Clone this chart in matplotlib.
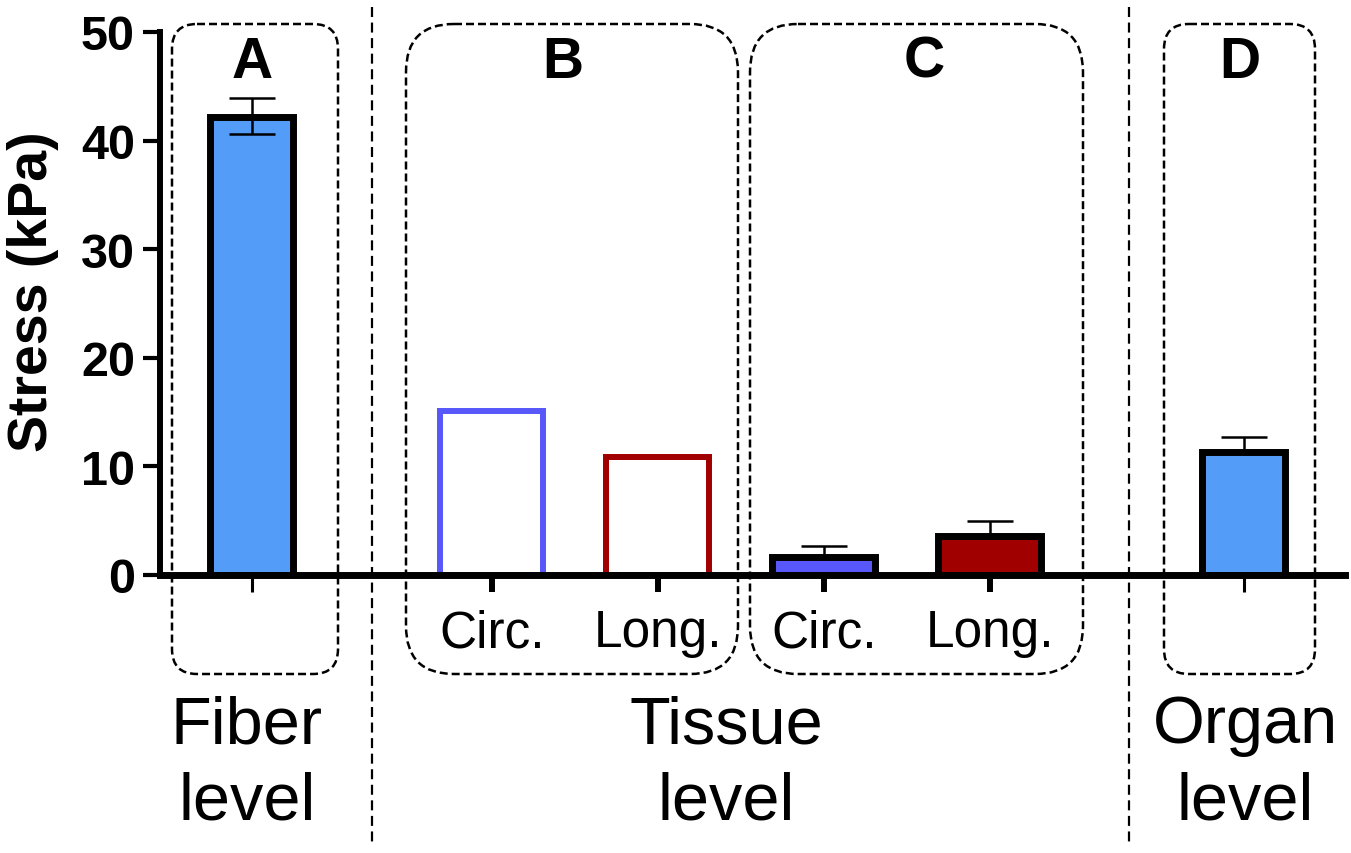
import matplotlib
matplotlib.use("Agg")
import matplotlib.pyplot as plt
import matplotlib.transforms as mtransforms
from matplotlib.patches import FancyBboxPatch
from matplotlib.lines import Line2D

plt.rcParams['font.family'] = ['Liberation Sans', 'DejaVu Sans']

# data
groups = ["A", "B", "B", "C", "C", "D"]
categories = ["", "Circ.", "Long.", "Circ.", "Long.", ""]
stress = [42.2, 15.1, 10.9, 1.7, 3.6, 11.3]
err_low = [1.6, 0.0, 0.0, 0.0, 0.0, 0.0]
err_high = [1.7, 0.0, 0.0, 1.0, 1.4, 1.4]
has_err = [True, False, False, True, True, True]
level_labels = ["Fiber\nlevel", "Tissue\nlevel", "Organ\nlevel"]

# layout / style
positions = [0.554, 2.0, 3.0, 4.0, 5.0, 6.53]
widths = [0.50, 0.62, 0.62, 0.62, 0.62, 0.50]
fills = ["#539DF9", "white", "white", "#5858FA", "#A00000", "#539DF9"]
edges = ["black", "#5858FA", "#A00000", "black", "black", "black"]
edge_w = [5.0, 4.3, 4.3, 5.0, 5.0, 5.0]
tick_w = [2.2, 4.3, 4.3, 4.3, 4.3, 2.2]

W, H = 1351, 854
fig = plt.figure(figsize=(W / 100, H / 100), dpi=100)
# pixel coordinates measured from the top-left corner
px = mtransforms.Affine2D().scale(1 / 100, -1 / 100).translate(0, H / 100) + fig.dpi_scale_trans

ax = fig.add_axes([160 / W, 1 - 576 / H, 1185 / W, (576 - 33) / H])
ax.set_facecolor("none")

ax.bar(positions, stress, width=widths, color=fills, edgecolor=edges,
       linewidth=edge_w, zorder=2)

for x, y, lo, hi, ok in zip(positions, stress, err_low, err_high, has_err):
    if ok:
        ax.errorbar([x], [y], yerr=[[lo], [hi]], fmt="none", ecolor="black",
                    elinewidth=1.8, capsize=16.5, capthick=1.8, zorder=3)

ax.set_xlim(0, 7.14)
ax.set_ylim(0, 50)
ax.set_yticks([0, 10, 20, 30, 40, 50])
ax.set_xticks(positions)
ax.set_xticklabels(categories, fontsize=37)

for s in ["top", "right"]:
    ax.spines[s].set_visible(False)
ax.spines["left"].set_linewidth(4.3)
ax.spines["bottom"].set_linewidth(5.0)
ax.spines["left"].set_zorder(4)
ax.spines["bottom"].set_zorder(4)

ax.tick_params(axis="y", length=12, width=3, pad=6, labelsize=35)
for lab in ax.get_yticklabels():
    lab.set_fontweight("bold")
ax.tick_params(axis="x", length=12, pad=12)
for t, w in zip(ax.xaxis.get_major_ticks(), tick_w):
    t.tick1line.set_markeredgewidth(w)

fig.text(33 / W, 1 - 292 / H, "Stress (kPa)", rotation=90, ha="center",
         va="center", fontsize=40, fontweight="bold")

# dashed rounded boxes around the groups
boxes = [(172, 338, 25), (406, 738, 48), (750, 1083, 48), (1164, 1315, 25)]
for x0, x1, r in boxes:
    p = FancyBboxPatch((x0, 25), x1 - x0, 650,
                       boxstyle=f"round,pad=0,rounding_size={r}",
                       transform=px, fill=False, edgecolor="black",
                       linewidth=1.8, linestyle=(0, (3.2, 1.6)), zorder=5)
    fig.patches.append(p)

# vertical separators
for xv in [372, 1129]:
    fig.lines.append(Line2D([xv, xv], [8, 848], transform=px, color="black",
                            linewidth=1.6, linestyle=(0, (4.5, 2.5)), zorder=5))

# group letters
for letter, xl in zip(["A", "B", "C", "D"], [252, 563, 924, 1240]):
    fig.text(xl, 78, letter, transform=px, ha="center", va="baseline",
             fontsize=41, fontweight="bold")

# level labels
for lab, xl in zip(level_labels, [247, 726, 1245]):
    fig.text(xl, 695, lab, transform=px, ha="center", va="top",
             fontsize=48, linespacing=1.3)

fig.savefig("out.png", dpi=100)
